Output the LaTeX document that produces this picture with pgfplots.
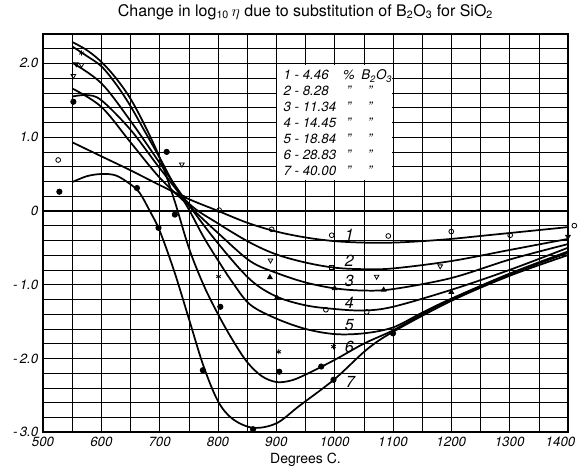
\documentclass[border=0pt]{standalone}
\usepackage{fontspec}
\setmainfont{TeX Gyre Heros}
\usepackage{pgfplots}
\pgfplotsset{compat=1.18}

\begin{document}
\begin{tikzpicture}
\begin{axis}[
    scale only axis,
    width=394pt, height=299pt,
    xmin=500, xmax=1400, ymin=-3.0, ymax=2.4,
    clip=false,
    /pgf/number format/assume math mode=true,
    xtick={500,600,...,1400},
    xticklabels={\textit{500},\textit{600},\textit{700},\textit{800},\textit{900},\textit{1000},\textit{1100},\textit{1200},\textit{1300},\llap{\textit{14}}\textit{00}},
    minor xtick={550,650,...,1350},
    ytick={-3,-2,-1,0,1,2},
    yticklabels={\textit{-\,3.0},\textit{-\,2.0},\textit{-\,1.0},\textit{0},\textit{1.0},\textit{2.0}},
    minor ytick={-2.8,-2.6,...,-2.0,-1.8,-1.6,...,-1.0,-0.8,-0.6,...,0,0.2,0.4,...,1.0,1.2,1.4,...,2.0,2.2},
    every tick label/.append style={font=\fontsize{10}{12}\selectfont},
    major tick length=0pt, minor tick length=0pt,
    grid=both,
    major grid style={black, line width=0.7pt},
    minor grid style={black, line width=0.4pt},
    axis line style={line width=1.3pt},
    title={Change in log\textsubscript{10}\,$\eta$ due to substitution of B\textsubscript{2}O\textsubscript{3} for SiO\textsubscript{2}},
    title style={font=\fontsize{12}{14}\selectfont, yshift=1pt},
    xlabel={Degrees C.},
    xlabel style={font=\fontsize{10.5}{12}\selectfont, yshift=2pt},
    crv/.style={black, line width=1.3pt, smooth, tension=0.55, no markers},
    pts/.style={black, only marks, line width=0.6pt},
]
% white panel behind the key
\fill[white] (axis cs:902,0.42) rectangle (axis cs:1098,1.98);

% curve 1 : 4.46 %
\addplot[crv] coordinates {(550,0.93) (600,0.74) (650,0.55) (700,0.35) (750,0.16) (800,0.0) (850,-0.16) (900,-0.28) (950,-0.36) (1000,-0.41) (1050,-0.43) (1100,-0.43) (1150,-0.41) (1200,-0.38) (1250,-0.34) (1300,-0.30) (1350,-0.26) (1400,-0.22)};
% curve 2 : 8.28 %
\addplot[crv] coordinates {(550,1.55) (575,1.57) (600,1.50) (650,1.10) (700,0.58) (750,0.10) (800,-0.17) (855,-0.43) (900,-0.59) (950,-0.70) (1000,-0.77) (1050,-0.79) (1100,-0.78) (1200,-0.68) (1300,-0.53) (1400,-0.38)};
% curve 3 : 11.34 %
\addplot[crv] coordinates {(550,1.66) (600,1.41) (650,0.93) (700,0.45) (750,0.07) (800,-0.30) (855,-0.68) (900,-0.84) (950,-0.97) (1000,-1.05) (1050,-1.08) (1100,-1.06) (1200,-0.91) (1300,-0.66) (1400,-0.45)};
% curve 4 : 14.45 %
\addplot[crv] coordinates {(550,2.01) (600,1.73) (650,1.22) (700,0.65) (750,0.08) (800,-0.44) (855,-0.93) (900,-1.16) (950,-1.28) (1000,-1.33) (1050,-1.35) (1100,-1.30) (1200,-1.07) (1300,-0.80) (1400,-0.50)};
% curve 5 : 18.84 %
\addplot[crv] coordinates {(550,2.23) (575,2.10) (600,1.96) (625,1.72) (650,1.42) (675,1.07) (700,0.72) (725,0.35) (750,0.02) (775,-0.35) (800,-0.67) (825,-0.97) (855,-1.27) (900,-1.46) (950,-1.60) (1000,-1.67) (1050,-1.66) (1100,-1.58) (1150,-1.38) (1200,-1.19) (1300,-0.85) (1400,-0.55)};
% curve 6 : 28.83 %
\addplot[crv] coordinates {(550,2.29) (575,2.18) (600,2.02) (625,1.80) (650,1.52) (675,1.15) (700,0.72) (725,0.15) (750,-0.50) (775,-1.00) (800,-1.40) (825,-1.75) (850,-2.05) (875,-2.24) (900,-2.32) (925,-2.30) (950,-2.22) (1000,-2.02) (1050,-1.80) (1100,-1.62) (1150,-1.40) (1200,-1.20) (1300,-0.86) (1400,-0.57)};
% curve 7 : 40.00 %
\addplot[crv] coordinates {(550,0.39) (575,0.47) (600,0.50) (625,0.48) (650,0.36) (666,0.24) (683,0.0) (700,-0.27) (725,-0.82) (750,-1.46) (775,-2.10) (800,-2.58) (825,-2.82) (860,-2.94) (900,-2.88) (940,-2.64) (1000,-2.28) (1055,-1.88) (1100,-1.64) (1200,-1.22) (1300,-0.88) (1400,-0.60)};

% measured points
\addplot[pts, mark=o, mark size=1.8pt, mark options={fill=white}] coordinates {(526,0.69) (802,0.01) (892,-0.25) (995,-0.33) (1092,-0.34) (1200,-0.28) (1301,-0.33) (1411,-0.20) (740,0.18) (985,-1.34) (1055,-1.37)};
\addplot[pts, mark=*, mark size=2pt] coordinates {(528,0.26) (552,1.48) (661,0.31) (698,-0.23) (712,0.80) (726,-0.05) (774,-2.16) (860,-2.96) (998,-2.29) (905,-2.18) (977,-2.11) (804,-1.30) (1100,-1.66)};
\addplot[pts, mark=triangle, mark size=2pt, mark options={rotate=180, fill=white}] coordinates {(552,1.83) (557,1.99) (566,1.98) (738,0.63) (890,-0.67) (1072,-0.89) (1181,-0.75) (1400,-0.35)};
\addplot[pts, mark=asterisk, mark size=2pt] coordinates {(566,2.14) (801,-0.89) (904,-1.91) (998,-1.84)};
\addplot[pts, mark=triangle*, mark size=2pt] coordinates {(889,-0.90) (1000,-1.05) (1084,-1.07) (901,-1.18) (1200,-1.10)};
\addplot[pts, mark=square, mark size=1.5pt, mark options={fill=white}] coordinates {(995,-0.76)};

% curve numbers
\node[font=\large\itshape] at (axis cs:1025,-0.32) {1};
\node[font=\large\itshape] at (axis cs:1025,-0.68) {2};
\node[font=\large\itshape] at (axis cs:1025,-0.95) {3};
\node[font=\large\itshape] at (axis cs:1025,-1.25) {4};
\node[font=\large\itshape] at (axis cs:1025,-1.55) {5};
\node[font=\large\itshape] at (axis cs:1025,-1.84) {6};
\node[font=\large\itshape] at (axis cs:1027,-2.32) {7};

% key
\node[anchor=north west, font=\itshape\fontsize{10}{12}\selectfont, inner sep=0pt] at (axis cs:912,1.93) {%
  \renewcommand{\arraystretch}{1.0}%
  \begin{tabular}{@{}r@{ - }l@{\enspace}c@{\enspace}l@{}}
  1 & 4.46  & \% & B\textsubscript{2}O\textsubscript{3}\\
  2 & 8.28  & '' & \enspace''\\
  3 & 11.34 & '' & \enspace''\\
  4 & 14.45 & '' & \enspace''\\
  5 & 18.84 & '' & \enspace''\\
  6 & 28.83 & '' & \enspace''\\
  7 & 40.00 & '' & \enspace''\\
  \end{tabular}};

\coordinate (bbsw) at (rel axis cs:-0.082,-0.095);
\coordinate (bbne) at (rel axis cs:1.023,1.085);
\end{axis}
\pgfresetboundingbox
\path[use as bounding box] (bbsw) rectangle (bbne);
\end{tikzpicture}
\end{document}
